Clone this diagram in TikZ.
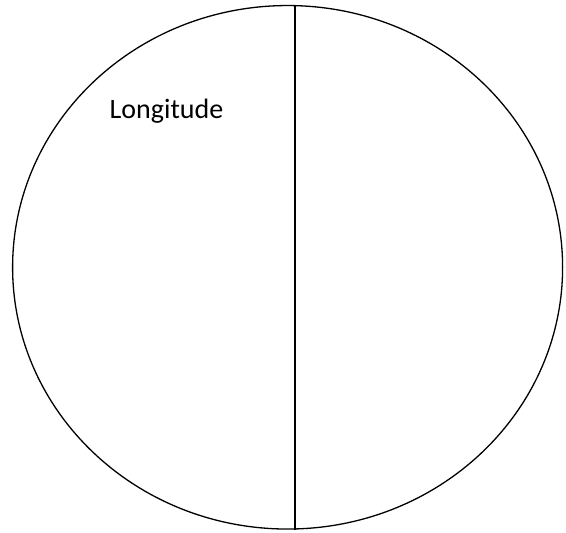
\documentclass[tikz,border=0pt]{standalone}
\usepackage{fontspec}
\setmainfont{Carlito}
\usetikzlibrary{shapes.geometric}
\begin{document}
\begin{tikzpicture}[x=1pt,y=1pt,
  outline/.style={draw=black, line width=1.3pt},
  label/.style={font=\fontsize{28}{32}\selectfont, inner sep=0pt, anchor=base west}]
\useasboundingbox (0,0) rectangle (566,533);
\node[outline, ellipse, minimum width=550, minimum height=523.5, inner sep=0pt] (globe) at (287.6,265.7) {};
\coordinate (top) at (295,528);
\coordinate (bot) at (295,3);
\draw[outline] (top) -- (bot);
\node[label] (lbl) at (109.5,414) {Longitude};
\end{tikzpicture}
\end{document}
